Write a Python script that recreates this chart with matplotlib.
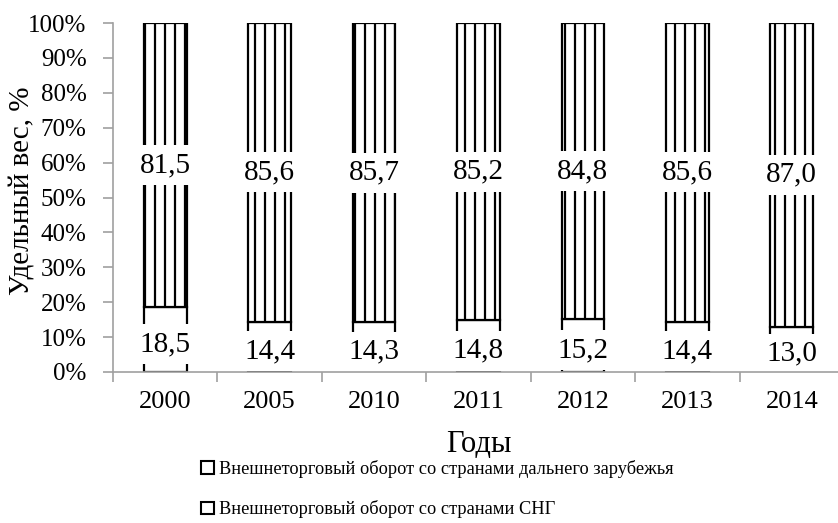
import numpy as np
import matplotlib
matplotlib.use("Agg")
from matplotlib import pyplot as plt
from matplotlib.patches import Patch

# dpi 120 so that the '||' hatch gives ~10 px line spacing like the reference
DPI = 120
k = 100 / DPI  # sizes below are tuned for 100 dpi

plt.rcParams['font.family'] = ['Liberation Serif', 'DejaVu Serif']
plt.rcParams['hatch.linewidth'] = 1.6 * k

years = ["2000", "2005", "2010", "2011", "2012", "2013", "2014"]
cis = [18.5, 14.4, 14.3, 14.8, 15.2, 14.4, 13.0]
far = [81.5, 85.6, 85.7, 85.2, 84.8, 85.6, 87.0]
legend_labels = ["Внешнеторговый оборот со странами дальнего зарубежья",
                 "Внешнеторговый оборот со странами СНГ"]

fig = plt.figure(figsize=(838 / DPI, 523 / DPI), dpi=DPI)
ax = fig.add_axes([113 / 838, 151 / 523, 731 / 838, 349 / 523])

x = np.arange(len(years))
w = 0.41
ax.bar(x, cis, w, color="white", edgecolor="black", linewidth=1.6 * k)
ax.bar(x, far, w, bottom=cis, color="white", edgecolor="black", hatch="||", linewidth=1.6 * k)

box = dict(facecolor="white", edgecolor="none", pad=5 * k)
for i in range(len(years)):
    # excel puts the small labels a bit below the middle of the segment
    ax.text(x[i], cis[i] / 2 - 1.3, f"{cis[i]:.1f}".replace(".", ","), ha="center", va="center",
            fontsize=21 * k, bbox=box)
    ax.text(x[i], cis[i] + far[i] / 2, f"{far[i]:.1f}".replace(".", ","), ha="center", va="center",
            fontsize=21 * k, bbox=box)

ax.set_xlim(-0.5, len(years) - 0.5)
ax.set_ylim(0, 100)
ax.set_yticks(np.arange(0, 101, 10))
ax.set_yticklabels([f"{v}%" for v in range(0, 101, 10)])
ax.set_xticks(np.arange(-0.5, len(years), 1.0))
ax.set_xticklabels([])
ax.set_xticks(x, minor=True)
ax.set_xticklabels(years, minor=True)

for s in ["top", "right"]:
    ax.spines[s].set_visible(False)
for s in ["left", "bottom"]:
    ax.spines[s].set_color("#a0a0a0")
    ax.spines[s].set_linewidth(1.2 * k)
    ax.spines[s].set_zorder(3)
ax.tick_params(axis="y", length=7 * k, color="#a0a0a0", width=1.2 * k, labelsize=18 * k, pad=12 * k)
ax.tick_params(axis="x", which="major", length=7 * k, color="#a0a0a0", width=1.2 * k)
ax.tick_params(axis="x", which="minor", length=0, labelsize=19 * k, pad=14 * k)

ax.set_ylabel("Удельный вес, %", fontsize=21 * k)
ax.yaxis.set_label_coords(-0.106, 0.52)
ax.set_xlabel("Годы", fontsize=22 * k, labelpad=12 * k)

handles = [Patch(facecolor="white", edgecolor="black", linewidth=1.5 * k) for _ in legend_labels]
fig.legend(handles, legend_labels, loc="center left", bbox_to_anchor=(0.22, 0.065),
           frameon=False, fontsize=13.2 * k, handlelength=0.7, handleheight=0.7,
           handletextpad=0.3, labelspacing=1.25)

fig.savefig("out.png", dpi=DPI)
